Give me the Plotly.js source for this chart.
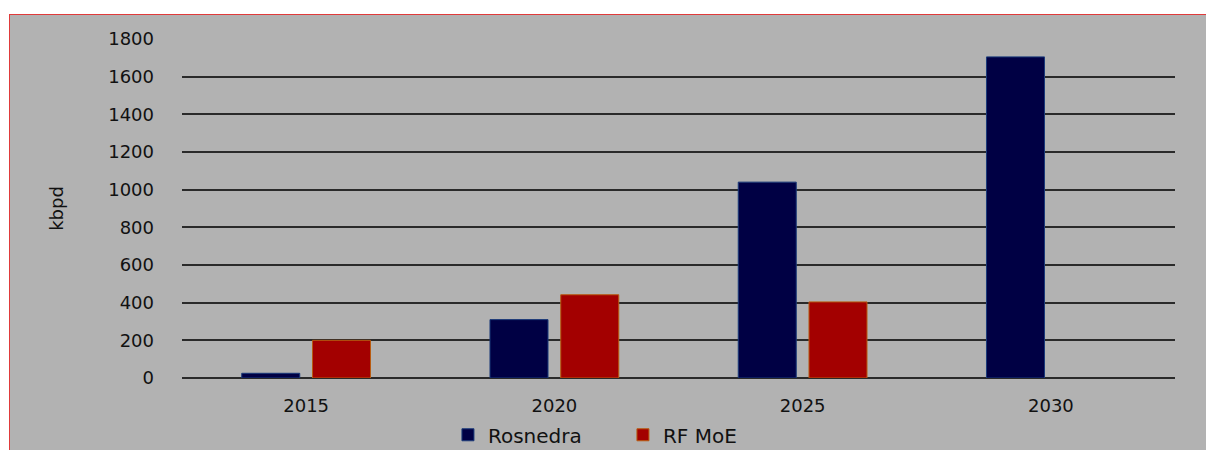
<!DOCTYPE html>
<html>
<head>
<meta charset="utf-8">
<script src="https://cdn.plot.ly/plotly-3.0.1.min.js"></script>
<style>
  body { margin: 0; background: #ffffff; }
  #frame { position: absolute; left: 9px; top: 14px; width: 1197px; height: 436px;
           border-top: 1.5px solid #e03a3a; border-left: 1.5px solid #e03a3a; box-sizing: border-box; }
  #plot { width: 100%; height: 100%; }
</style>
</head>
<body>
<div id="frame"><div id="plot"></div></div>
<script>
var years = ["2015", "2020", "2025", "2030"];
var rosnedra = [25, 310, 1040, 1705];
var rfMoe = [200, 442, 404, null];

var trace1 = {
    x: years,
    y: rosnedra,
    type: "bar",
    name: "Rosnedra",
    marker: { color: "#000044", line: { color: "#1a3a7a", width: 1 } }
};
var trace2 = {
    x: years,
    y: rfMoe,
    type: "bar",
    name: "RF MoE",
    marker: { color: "#a30000", line: { color: "#b85a10", width: 1 } }
};

var layout = {
    width: 1196,
    height: 435,
    paper_bgcolor: "#b2b2b2",
    plot_bgcolor: "#b2b2b2",
    font: { family: "DejaVu Sans, Liberation Sans, sans-serif", size: 18, color: "#111111" },
    margin: { l: 172, r: 31, t: 24, b: 72 },
    barmode: "group",
    bargap: 0.43,
    bargroupgap: 0.18,
    showlegend: true,
    legend: { orientation: "h", x: 0.5125, xanchor: "center", xref: "container",
              y: 0.035, yanchor: "middle", yref: "container", entrywidth: 130,
              bgcolor: "rgba(0,0,0,0)", font: { size: 20 } },
    xaxis: {
        showgrid: false,
        zeroline: false,
        showline: false,
        ticks: "outside",
        ticklen: 11,
        tickcolor: "rgba(0,0,0,0)"
    },
    yaxis: {
        title: { text: "kbpd", standoff: 39, font: { size: 18 } },
        range: [0, 1800],
        dtick: 200,
        showgrid: true,
        gridcolor: "#2a2a2a",
        gridwidth: 1.5,
        zeroline: true,
        zerolinecolor: "#2a2a2a",
        zerolinewidth: 1.5,
        ticklabelstandoff: 27
    }
};

Plotly.newPlot("plot", [trace1, trace2], layout, { displayModeBar: false });
</script>
</body>
</html>
